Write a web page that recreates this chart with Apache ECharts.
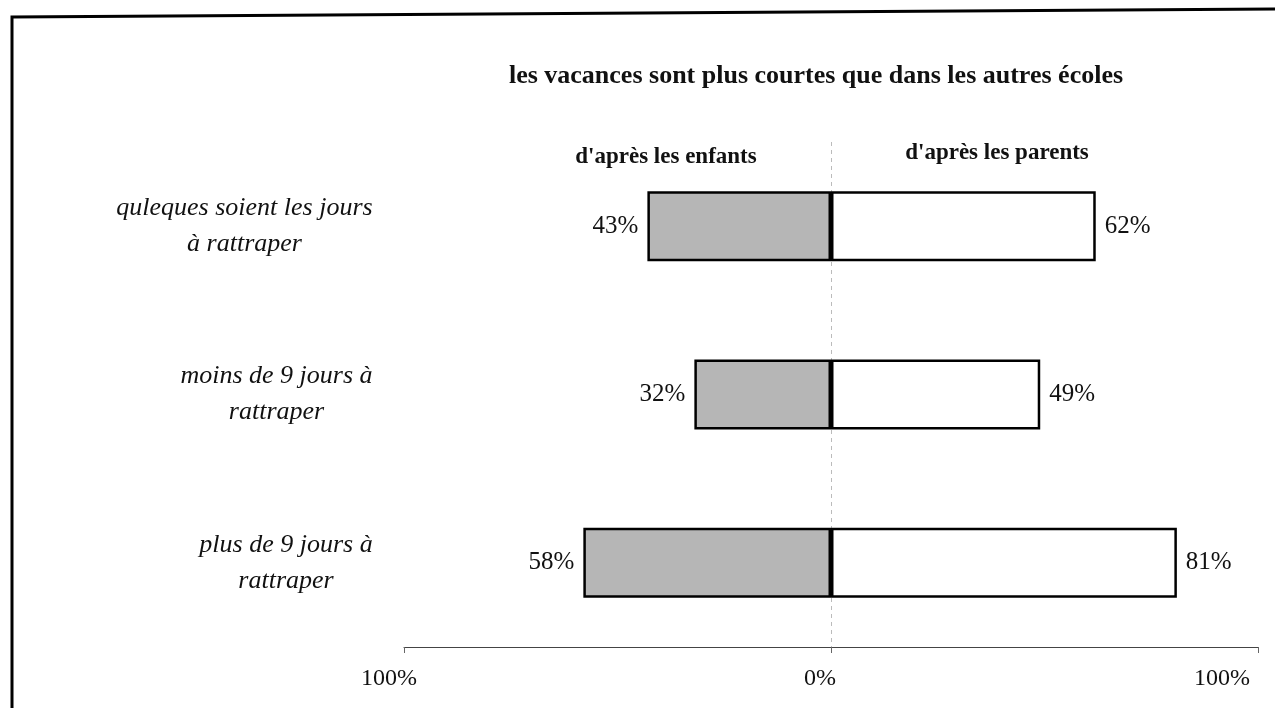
<!DOCTYPE html>
<html>
<head>
<meta charset="utf-8">
<script src="https://cdn.jsdelivr.net/npm/echarts@6/dist/echarts.min.js"></script>
<style>
	html, body { margin: 0; padding: 0; background: #fff; }
	#chart { width: 1275px; height: 708px; }
</style>
</head>
<body>
<div id="chart"></div>
<script>
	// données
	var categories = ['quleques soient les jours\nà rattraper', 'moins de 9 jours à\nrattraper', 'plus de 9 jours à\nrattraper'];
	var enfants = [43, 32, 58];
	var parents = [62, 49, 81];
	var tickLabels = {'-100': '100%', '0': '0%', '100': '100%'};

	var serif = '"Liberation Serif", "Times New Roman", serif';
	var catSize = 26;
	var catFont = 'italic ' + catSize + 'px ' + serif;

	// largeur de la ligne la plus longue, pour centrer les deux lignes entre elles
	var ctx = document.createElement('canvas').getContext('2d');
	ctx.font = catFont;
	var catRich = {};
	categories.forEach(function(c, i) {
		var w = 0;
		c.split('\n').forEach(function(l) {
			w = Math.max(w, ctx.measureText(l).width);
		});
		catRich['c' + i] = {
			width: Math.ceil(w) + 2,
			align: 'center',
			fontFamily: serif,
			fontStyle: 'italic',
			fontSize: catSize,
			lineHeight: 36,
			color: '#111'
		};
	});

	var chart = echarts.init(document.getElementById('chart'));
	var option = {
		animation: false,
		backgroundColor: '#fff',
		grid: {
			left: 404,
			right: 17,
			top: 142,
			bottom: 61
		},
		graphic: [{
			type: 'polyline',
			shape: { points: [[12, 708], [12, 17], [1275, 9]] },
			style: { stroke: '#000', lineWidth: 3, fill: null }
		}, {
			type: 'text',
			x: 816, y: 76,
			style: {
				text: 'les vacances sont plus courtes que dans les autres écoles',
				font: 'bold 26px ' + serif,
				fill: '#111',
				align: 'center', verticalAlign: 'middle',
				textAlign: 'center', textVerticalAlign: 'middle'
			}
		}, {
			type: 'text',
			x: 666, y: 157,
			style: {
				text: "d'après les enfants",
				font: 'bold 23px ' + serif,
				fill: '#111',
				align: 'center', verticalAlign: 'middle',
				textAlign: 'center', textVerticalAlign: 'middle'
			}
		}, {
			type: 'text',
			x: 997, y: 153,
			style: {
				text: "d'après les parents",
				font: 'bold 23px ' + serif,
				fill: '#111',
				align: 'center', verticalAlign: 'middle',
				textAlign: 'center', textVerticalAlign: 'middle'
			}
		}],
		xAxis: {
			type: 'value',
			min: -100,
			max: 100,
			interval: 100,
			splitLine: { show: false },
			axisLine: {
				show: true,
				lineStyle: { color: '#444', width: 1 }
			},
			axisTick: {
				show: true,
				inside: false,
				length: 6,
				lineStyle: { color: '#666' }
			},
			axisLabel: {
				margin: 20,
				formatter: function(v) {
					var k = v < 0 ? 'l' : (v === 0 ? 'm' : 'r');
					return '{' + k + '|' + tickLabels[String(v)] + '}';
				},
				rich: {
					l: { fontFamily: serif, fontSize: 24, color: '#111', padding: [0, 30, 0, 0] },
					m: { fontFamily: serif, fontSize: 24, color: '#111', padding: [0, 22, 0, 0] },
					r: { fontFamily: serif, fontSize: 24, color: '#111', padding: [0, 72, 0, 0] }
				}
			}
		},
		yAxis: {
			type: 'category',
			inverse: true,
			data: categories,
			axisLine: { show: false },
			axisTick: { show: false },
			axisLabel: {
				margin: 30,
				formatter: function(v, i) {
					return v.split('\n').map(function(l) {
						return '{c' + i + '|' + l + '}';
					}).join('\n');
				},
				rich: catRich
			}
		},
		series: [{
			name: "d'après les enfants",
			type: 'bar',
			barWidth: 70,
			barGap: '-100%',
			data: enfants.map(function(v) { return -v; }),
			itemStyle: {
				color: '#b6b6b6',
				borderColor: '#000',
				borderWidth: 2.5
			},
			label: {
				show: true,
				position: 'left',
				distance: 9,
				fontFamily: serif,
				fontSize: 25,
				color: '#111',
				formatter: function(p) { return Math.abs(p.value) + '%'; }
			},
			markLine: {
				silent: true,
				symbol: 'none',
				label: { show: false },
				lineStyle: { color: '#bbb', type: [4, 4], width: 1 },
				data: [{ xAxis: 0 }],
				z: 1
			}
		}, {
			name: "d'après les parents",
			type: 'bar',
			barWidth: 70,
			barGap: '-100%',
			data: parents,
			itemStyle: {
				color: '#fff',
				borderColor: '#000',
				borderWidth: 2.5
			},
			label: {
				show: true,
				position: 'right',
				distance: 9,
				fontFamily: serif,
				fontSize: 25,
				color: '#111',
				formatter: function(p) { return p.value + '%'; }
			}
		}]
	};
	chart.setOption(option);
</script>
</body>
</html>
